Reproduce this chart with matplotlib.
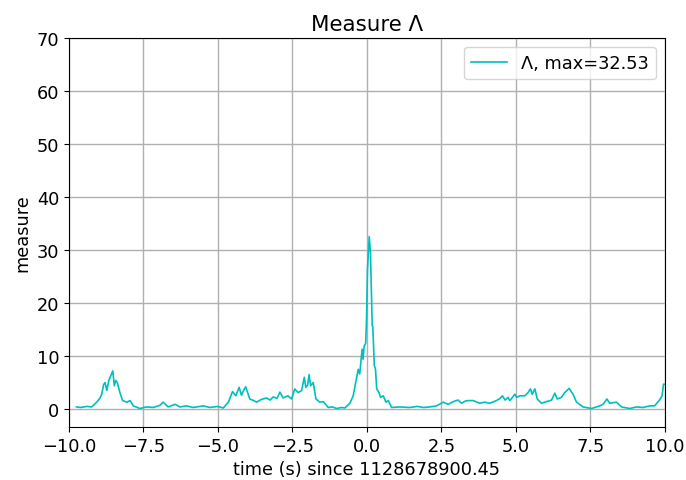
import matplotlib
matplotlib.use("Agg")
from matplotlib import pyplot as plt
import numpy as np

# time (s) relative to 1128678900.45
t = [-9.75, -9.61, -9.40, -9.24, -9.07, -8.97, -8.90, -8.84, -8.79, -8.73,
     -8.66, -8.62, -8.53, -8.48, -8.43, -8.38, -8.29, -8.20, -8.06, -7.95,
     -7.84, -7.62, -7.40, -7.17, -6.95, -6.84, -6.67, -6.44, -6.28, -6.05,
     -5.83, -5.49, -5.27, -5.00, -4.82, -4.65, -4.51, -4.40, -4.29, -4.21,
     -4.13, -4.07, -3.93, -3.80, -3.70, -3.55, -3.37, -3.25, -3.14, -3.02,
     -2.92, -2.81, -2.65, -2.53, -2.42, -2.31, -2.19, -2.10, -2.05, -1.99,
     -1.94, -1.89, -1.80, -1.71, -1.58, -1.46, -1.30, -1.15, -1.02, -0.85,
     -0.74, -0.57, -0.46, -0.35, -0.29, -0.24, -0.16, -0.13, -0.09, -0.04,
     -0.01, 0.02, 0.08, 0.12, 0.18, 0.20, 0.25, 0.29, 0.33, 0.41,
     0.46, 0.55, 0.64, 0.72, 0.83, 1.10, 1.44, 1.70, 1.89, 2.11,
     2.34, 2.56, 2.73, 2.90, 3.06, 3.18, 3.30, 3.40, 3.57, 3.79,
     3.95, 4.13, 4.35, 4.47, 4.55, 4.64, 4.74, 4.80, 4.97, 5.03,
     5.13, 5.30, 5.41, 5.49, 5.55, 5.64, 5.72, 5.86, 6.03, 6.20,
     6.31, 6.39, 6.53, 6.64, 6.79, 6.92, 7.04, 7.26, 7.54, 7.82,
     7.93, 8.06, 8.15, 8.38, 8.55, 8.83, 9.05, 9.27, 9.50, 9.66,
     9.81, 9.91, 9.96, 10.0]
measure = [0.4, 0.3, 0.5, 0.4, 1.3, 2.0, 2.8, 4.6, 5.0, 3.5,
           5.5, 6.0, 7.2, 4.4, 5.4, 5.0, 3.1, 1.6, 1.3, 1.6,
           0.6, 0.1, 0.4, 0.3, 0.7, 1.3, 0.4, 0.9, 0.4, 0.6,
           0.3, 0.6, 0.3, 0.5, 0.2, 1.3, 3.3, 2.5, 4.1, 2.6,
           3.6, 4.2, 1.9, 1.6, 1.3, 1.8, 2.1, 1.7, 2.3, 2.0,
           3.2, 2.1, 2.5, 1.9, 3.8, 3.1, 3.5, 6.0, 4.1, 4.5,
           6.5, 4.4, 5.0, 1.9, 1.3, 1.4, 0.3, 0.4, 0.1, 0.3,
           0.2, 1.1, 2.5, 5.7, 7.5, 6.6, 11.3, 9.4, 11.9, 12.4,
           17.0, 26.4, 32.53, 29.6, 15.7, 15.5, 8.2, 7.5, 3.8, 3.1,
           2.2, 2.5, 1.3, 1.6, 0.3, 0.4, 0.3, 0.5, 0.3, 0.4,
           0.6, 1.3, 0.9, 1.4, 1.7, 1.1, 1.5, 1.6, 1.6, 1.1,
           1.3, 1.1, 1.6, 2.0, 2.5, 1.7, 2.2, 1.6, 2.8, 2.2,
           2.5, 2.5, 3.1, 3.8, 2.8, 3.8, 1.9, 1.1, 1.4, 1.7,
           3.0, 1.9, 2.2, 3.1, 3.9, 2.8, 1.3, 0.4, 0.1, 0.6,
           0.9, 1.9, 1.1, 1.3, 0.4, 0.1, 0.4, 0.3, 0.6, 0.6,
           1.6, 2.5, 4.7, 4.7]

plt.rcParams['font.size'] = 12.8

fig = plt.figure(figsize=(6.86, 4.81), dpi=100)
ax = fig.add_axes([0.1006, 0.110, 0.8684, 0.809])
ax.plot(t, measure, color='c', linewidth=1.2,
        label='\u039b, max=%.2f' % max(measure))
ax.set_xlim(-10, 10)
ax.set_ylim(-3.4, 70)
ax.grid(True, color='#b0b0b0', linewidth=1.0)
ax.set_xlabel('time (s) since 1128678900.45')
ax.set_ylabel('measure')
ax.set_title('Measure \u039b')
ax.legend(loc='upper right')

fig.savefig('out.png', dpi=100)
